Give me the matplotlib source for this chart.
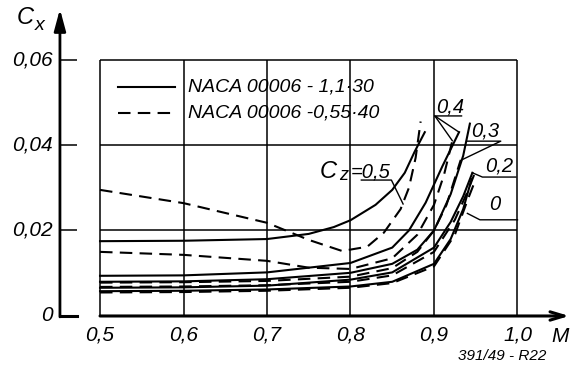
import matplotlib.pyplot as plt

# Mach numbers and drag coefficients for two profiles at several lift coefficients
m_s05 = [0.50, 0.60, 0.70, 0.75, 0.78, 0.80, 0.83, 0.85, 0.865, 0.877, 0.889]
cx_s05 = [0.0175, 0.0176, 0.0180, 0.0192, 0.0208, 0.0224, 0.0260, 0.0295, 0.0335, 0.0385, 0.0430]
m_d05 = [0.50, 0.60, 0.70, 0.75, 0.79, 0.82, 0.84, 0.86, 0.87, 0.878, 0.884]
cx_d05 = [0.0295, 0.0264, 0.0218, 0.0178, 0.0152, 0.0162, 0.0195, 0.0250, 0.0300, 0.0370, 0.0455]

m_s04 = [0.50, 0.60, 0.70, 0.80, 0.85, 0.87, 0.89, 0.91, 0.93]
cx_s04 = [0.0094, 0.0095, 0.0102, 0.0124, 0.0160, 0.0200, 0.0265, 0.0350, 0.0430]
m_d04 = [0.50, 0.60, 0.70, 0.75, 0.80, 0.85, 0.88, 0.90, 0.912, 0.922]
cx_d04 = [0.0150, 0.0143, 0.0129, 0.0113, 0.0110, 0.0135, 0.0190, 0.0260, 0.0330, 0.0410]

m_s03 = [0.50, 0.60, 0.70, 0.80, 0.85, 0.88, 0.90, 0.92, 0.935, 0.943]
cx_s03 = [0.0080, 0.0081, 0.0086, 0.0101, 0.0122, 0.0155, 0.0200, 0.0285, 0.0375, 0.0450]
m_d03 = [0.50, 0.60, 0.70, 0.80, 0.85, 0.88, 0.90, 0.915, 0.932]
cx_d03 = [0.0078, 0.0079, 0.0082, 0.0092, 0.0112, 0.0150, 0.0200, 0.0260, 0.0365]

m_s02 = [0.50, 0.60, 0.70, 0.80, 0.85, 0.90, 0.92, 0.935, 0.946]
cx_s02 = [0.0066, 0.0067, 0.0071, 0.0085, 0.0102, 0.0160, 0.0220, 0.0280, 0.0335]
m_d02 = [0.50, 0.60, 0.70, 0.80, 0.85, 0.90, 0.925, 0.94, 0.948]
cx_d02 = [0.0068, 0.0069, 0.0072, 0.0080, 0.0095, 0.0150, 0.0225, 0.0290, 0.0330]

m_s0 = [0.50, 0.60, 0.70, 0.80, 0.85, 0.90, 0.92, 0.935, 0.945]
cx_s0 = [0.0058, 0.0059, 0.0062, 0.0069, 0.0080, 0.0122, 0.0180, 0.0250, 0.0320]
m_d0 = [0.50, 0.60, 0.70, 0.80, 0.85, 0.90, 0.925, 0.94, 0.948]
cx_d0 = [0.0055, 0.0056, 0.0059, 0.0066, 0.0077, 0.0116, 0.0190, 0.0270, 0.0310]

x_ticks = [0.5, 0.6, 0.7, 0.8, 0.9, 1.0]
x_labels = ["0,5", "0,6", "0,7", "0,8", "0,9", "1,0"]
y_ticks = [0.0, 0.02, 0.04, 0.06]
y_labels = ["0", "0,02", "0,04", "0,06"]

FONT = ["Liberation Sans", "DejaVu Sans"]
plt.rcParams["font.family"] = FONT

fig = plt.figure(figsize=(5.76, 3.71), dpi=100)
ax = fig.add_axes([0, 0, 1, 1])
ax.set_xlim(0.3802, 1.0701)
ax.set_ylim(-0.01287, 0.07392)
ax.axis("off")

k = dict(color="black", lw=1.1, solid_capstyle="butt")
x0 = 0.452  # position of the vertical axis

# grid box
for xv in x_ticks:
    ax.plot([xv, xv], [0, 0.06], **k)
for yv in y_ticks[1:]:
    ax.plot([0.5, 1.0], [yv, yv], **k)
    ax.plot([x0, x0 + 0.021], [yv, yv], **k)
ax.plot([x0, x0 + 0.021], [0, 0], color="black", lw=2.2)

# axes with arrows
ax.annotate("", xy=(x0, 0.0718), xytext=(x0, -0.0002),
            arrowprops=dict(arrowstyle="-|>,head_length=1.3,head_width=0.35",
                            color="black", lw=2.0, shrinkA=0, shrinkB=0))
ax.annotate("", xy=(1.062, 0), xytext=(0.5, 0),
            arrowprops=dict(arrowstyle="->,head_length=1.0,head_width=0.3",
                            color="black", lw=2.2, shrinkA=0, shrinkB=0))

# curves
lw = 1.5
for m, c in [(m_s05, cx_s05), (m_s04, cx_s04), (m_s03, cx_s03), (m_s02, cx_s02), (m_s0, cx_s0)]:
    ax.plot(m, c, color="black", lw=lw)
for m, c in [(m_d05, cx_d05), (m_d04, cx_d04), (m_d03, cx_d03), (m_d02, cx_d02), (m_d0, cx_d0)]:
    ax.plot(m, c, color="black", lw=lw, dashes=(6, 3.5))

# legend
ax.plot([0.521, 0.590], [0.0535, 0.0535], color="black", lw=lw)
ax.plot([0.521, 0.590], [0.0474, 0.0474], color="black", lw=lw, dashes=(6, 3.5))
lg = dict(fontsize=14, style="italic", family=FONT)
ax.text(0.605, 0.0535, "NACA 00006 - 1,1·30", va="center", **lg)
ax.text(0.605, 0.0474, "NACA 00006 -0,55·40", va="center", **lg)

# tick labels
tk = dict(fontsize=15, style="italic", family=FONT)
for xv, lab in zip(x_ticks, x_labels):
    ax.text(xv, -0.0023, lab, ha="center", va="top", **tk)
for yv, lab in zip(y_ticks, y_labels):
    ax.text(x0 - 0.009, yv, lab, ha="right", va="center", **tk)

ax.text(0.400, 0.0698, "C", ha="left", va="center", fontsize=17, style="italic", family=FONT)
ax.text(0.4215, 0.0680, "x", ha="left", va="center", fontsize=14, style="italic", family=FONT)
ax.text(1.040, -0.0025, "M", ha="left", va="top", **tk)
ax.text(1.035, -0.0094, "391/49 - R22", ha="right", va="center", fontsize=11, style="italic", family=FONT)

# lift coefficient labels with leaders
lk = dict(fontsize=14.5, style="italic", family=FONT, va="center")
ax.text(0.763, 0.0338, "C", fontsize=17, style="italic", family=FONT, va="center")
ax.text(0.7865, 0.0328, "z", fontsize=13, style="italic", family=FONT, va="center")
ax.text(0.800, 0.0336, "=0,5", **lk)
ax.plot([0.813, 0.849, 0.863], [0.0318, 0.0318, 0.0262], color="black", lw=1.0)

ax.text(0.903, 0.0489, "0,4", **lk)
ax.plot([0.933, 0.901, 0.930], [0.0468, 0.0468, 0.0430], color="black", lw=1.0)
ax.plot([0.901, 0.922], [0.0468, 0.0410], color="black", lw=1.0)

ax.text(0.944, 0.0433, "0,3", **lk)
ax.plot([0.940, 0.980, 0.933], [0.0409, 0.0409, 0.0365], color="black", lw=1.0)

ax.text(0.961, 0.0351, "0,2", **lk)
ax.plot([0.998, 0.958, 0.946], [0.0325, 0.0325, 0.0335], color="black", lw=1.0)

ax.text(0.966, 0.0260, "0", **lk)
ax.plot([1.0, 0.955, 0.940], [0.0225, 0.0225, 0.0240], color="black", lw=1.0)

fig.savefig("out.png", dpi=100)
